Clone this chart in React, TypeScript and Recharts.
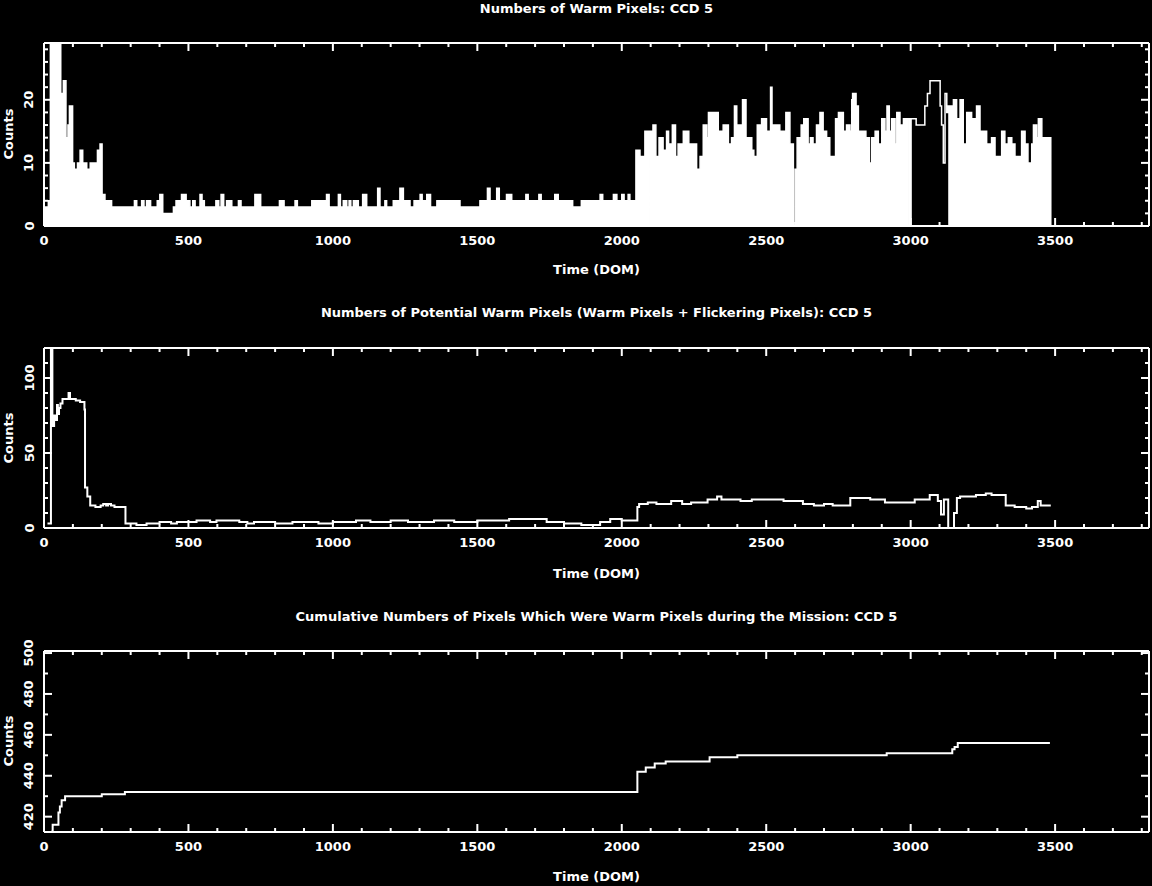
import React from 'react';
import { ComposedChart, Area, Line, XAxis, YAxis } from 'recharts';

// Day of mission ticks, shared by the three panels (major every 500)
const domTicks = [
  0, 100, 200, 300, 400, 500, 600, 700, 800, 900, 1000, 1100, 1200, 1300, 1400, 1500, 1600, 1700, 1800, 1900,
  2000, 2100, 2200, 2300, 2400, 2500, 2600, 2700, 2800, 2900, 3000, 3100, 3200, 3300, 3400, 3500, 3600, 3700, 3800,
];
const warmTicks = [0, 2, 4, 6, 8, 10, 12, 14, 16, 18, 20, 22, 24, 26, 28];
const potentialTicks = [0, 10, 20, 30, 40, 50, 60, 70, 80, 90, 100, 110, 120];
const cumulativeTicks = [420, 430, 440, 450, 460, 470, 480, 490, 500];

// Panel 1: warm pixels (step values)
const warmDom = [
  0, 15, 22, 58, 67, 76, 83, 88, 99, 105,
  116, 125, 134, 148, 160, 185, 194, 201, 211, 234,
  313, 321, 338, 346, 355, 369, 392, 401, 411, 448,
  457, 476, 492, 505, 515, 523, 540, 547, 555, 595,
  605, 613, 622, 632, 650, 673, 682, 730, 750, 815,
  831, 869, 877, 927, 978, 987, 1019, 1026, 1036, 1048,
  1056, 1062, 1071, 1088, 1103, 1117, 1155, 1163, 1180, 1186,
  1209, 1232, 1244, 1267, 1281, 1302, 1309, 1325, 1338, 1360,
  1440, 1509, 1535, 1544, 1567, 1576, 1601, 1619, 1668, 1676,
  1713, 1721, 1768, 1780, 1830, 1860, 1925, 1934, 1937, 1971,
  1983, 2000, 2008, 2022, 2028, 2049, 2063, 2080, 2092, 2095,
  2108, 2118, 2129, 2143, 2155, 2162, 2165, 2175, 2186, 2195,
  2213, 2232, 2259, 2271, 2282, 2294, 2300, 2334, 2351, 2369,
  2380, 2390, 2398, 2418, 2430, 2450, 2457, 2469, 2484, 2501,
  2515, 2520, 2547, 2568, 2582, 2594, 2600, 2607, 2621, 2630,
  2645, 2653, 2662, 2674, 2686, 2697, 2709, 2720, 2736, 2740,
  2750, 2767, 2778, 2790, 2796, 2799, 2811, 2819, 2845, 2857,
  2865, 2877, 2888, 2900, 2911, 2918, 2926, 2934, 2946, 2952,
  2963, 2975, 2988, 2991, 3004, 3019, 3049, 3058, 3067, 3102,
  3107, 3113, 3119, 3125, 3130, 3148, 3159, 3171, 3182, 3194,
  3211, 3228, 3240, 3263, 3280, 3292, 3315, 3326, 3338, 3350,
  3361, 3384, 3396, 3406, 3419, 3425, 3436, 3442, 3454, 3485,
];
const warmCount = [
  3, 4, 40, 21, 23, 14, 16, 19, 10, 9,
  10, 12, 10, 9, 10, 12, 13, 5, 4, 3,
  4, 3, 4, 3, 4, 3, 4, 5, 2, 3,
  4, 5, 4, 3, 4, 3, 5, 4, 3, 4,
  3, 5, 3, 4, 3, 4, 3, 5, 3, 4,
  3, 4, 3, 4, 5, 3, 5, 3, 4, 3,
  4, 3, 4, 3, 5, 3, 6, 3, 4, 3,
  4, 6, 4, 3, 4, 5, 4, 5, 3, 4,
  3, 4, 6, 4, 6, 4, 5, 4, 5, 4,
  5, 4, 5, 4, 3, 4, 5, 0, 4, 5,
  4, 5, 4, 5, 4, 12, 11, 15, 0, 15,
  16, 11, 14, 12, 15, 0, 13, 16, 11, 13,
  15, 13, 9, 11, 16, 14, 18, 15, 16, 13,
  14, 19, 16, 20, 14, 12, 11, 16, 17, 15,
  22, 16, 15, 18, 13, 0, 9, 14, 16, 17,
  13, 14, 13, 16, 18, 15, 14, 11, 0, 17,
  18, 15, 16, 15, 20, 21, 19, 15, 14, 10,
  14, 15, 13, 17, 15, 19, 15, 17, 13, 18,
  16, 17, 0, 17, 17, 16, 19, 21, 23, 19,
  16, 10, 21, 18, 19, 20, 17, 20, 13, 18,
  17, 19, 15, 13, 14, 11, 15, 13, 14, 13,
  11, 15, 13, 10, 13, 16, 14, 17, 14, 0,
];
// stretch where the plot is only an outline, not filled down to zero
const warmHollow = [3004, 3130];

// Panel 2: potential warm pixels
const potDom = [
  12, 24, 29, 35, 40, 45, 48, 52, 57, 64,
  85, 90, 110, 125, 140, 142, 150, 160, 178, 196,
  205, 215, 222, 232, 244, 282, 320, 355, 400, 440,
  460, 528, 575, 597, 676, 704, 727, 800, 860, 950,
  1000, 1080, 1130, 1200, 1260, 1350, 1420, 1500, 1610, 1740,
  1800, 1860, 1925, 1960, 2000, 2054, 2060, 2090, 2120, 2171,
  2209, 2240, 2297, 2330, 2345, 2411, 2450, 2513, 2560, 2627,
  2665, 2700, 2730, 2791, 2860, 2911, 3014, 3066, 3094, 3105,
  3115, 3130, 3150, 3160, 3171, 3226, 3260, 3280, 3329, 3360,
  3400, 3420, 3440, 3450, 3485,
];
const potCount = [
  3, 125, 68, 75, 72, 82, 76, 80, 83, 86,
  90, 86, 85, 84, 79, 27, 21, 15, 14, 15,
  16, 15, 16, 15, 14, 3, 2, 3, 4, 3,
  4, 5, 4, 5, 4, 3, 4, 3, 4, 3,
  4, 5, 4, 5, 4, 5, 4, 5, 6, 4,
  3, 2, 4, 6, 5, 14, 16, 17, 16, 18,
  16, 17, 19, 21, 19, 18, 19, 19, 18, 16,
  15, 16, 15, 20, 19, 17, 19, 22, 18, 9,
  19, 0, 10, 20, 21, 22, 23, 22, 15, 14,
  13, 14, 18, 15, 15,
];

// Panel 3: cumulative warm pixels
const cumDom = [26, 30, 50, 55, 61, 73, 200, 280, 2054, 2083, 2114, 2152, 2304, 2400, 2917, 3144, 3152, 3163, 3482];
const cumCount = [413, 416, 422, 425, 428, 430, 431, 432, 442, 444, 446, 447, 449, 450, 451, 453, 454, 456, 456];

const warmRows = warmDom.map((d, i) => ({
  dom: d,
  count: warmCount[i],
  fill: d >= warmHollow[0] && d < warmHollow[1] ? 0 : warmCount[i],
}));
const potRows = potDom.map((d, i) => ({ dom: d, count: potCount[i] }));
const cumRows = cumDom.map((d, i) => ({ dom: d, count: cumCount[i] }));

const FONT = '"DejaVu Sans", sans-serif';
const WHITE = '#ffffff';
const DOM_MAX = 3825;

const isMajor = (v: number, step: number) => Math.abs(v / step - Math.round(v / step)) < 1e-6;

const textProps = {
  fill: WHITE,
  fontSize: 13,
  fontWeight: 'bold' as const,
  fontFamily: FONT,
  stroke: 'none',
};

const bottomTick = (props: any) => {
  const { x, y, payload } = props;
  const major = isMajor(payload.value, 500);
  return (
    <g>
      <line x1={x} x2={x} y1={y} y2={y - (major ? 8 : 4)} stroke={WHITE} strokeWidth={2} />
      {major && (
        <text x={x} y={y + 14} textAnchor="middle" dominantBaseline="central" {...textProps}>
          {payload.value}
        </text>
      )}
    </g>
  );
};

const topTick = (props: any) => {
  const { x, y, payload } = props;
  const major = isMajor(payload.value, 500);
  return <line x1={x} x2={x} y1={y} y2={y + (major ? 8 : 4)} stroke={WHITE} strokeWidth={2} />;
};

const leftTick = (step: number) => (props: any) => {
  const { x, y, payload } = props;
  const major = isMajor(payload.value, step);
  const lx = x - 15;
  return (
    <g>
      <line x1={x} x2={x + (major ? 8 : 4)} y1={y} y2={y} stroke={WHITE} strokeWidth={2} />
      {major && (
        <text
          x={lx}
          y={y}
          transform={`rotate(-90 ${lx} ${y})`}
          textAnchor="middle"
          dominantBaseline="central"
          {...textProps}
        >
          {payload.value}
        </text>
      )}
    </g>
  );
};

const rightTick = (step: number) => (props: any) => {
  const { x, y, payload } = props;
  const major = isMajor(payload.value, step);
  return <line x1={x} x2={x - (major ? 8 : 4)} y1={y} y2={y} stroke={WHITE} strokeWidth={2} />;
};

// box of four axes with inward ticks; each axis is 1px thick so recharts draws it
const frameAxes = (yDomain: number[], yTicks: number[], yStep: number) => {
  const line = { stroke: WHITE, strokeWidth: 2 };
  return [
    <XAxis key="xb" dataKey="dom" type="number" domain={[0, DOM_MAX]} ticks={domTicks} interval={0}
      allowDataOverflow height={1} tickSize={0} tickMargin={0} tickLine={false} axisLine={line} tick={bottomTick} />,
    <XAxis key="xt" xAxisId="top" orientation="top" dataKey="dom" type="number" domain={[0, DOM_MAX]}
      ticks={domTicks} interval={0} allowDataOverflow height={1} tickSize={0} tickMargin={0} tickLine={false}
      axisLine={line} tick={topTick} />,
    <YAxis key="yl" type="number" domain={yDomain} ticks={yTicks} interval={0} allowDataOverflow width={1}
      tickSize={0} tickMargin={0} tickLine={false} axisLine={line} tick={leftTick(yStep)} />,
    <YAxis key="yr" yAxisId="right" orientation="right" type="number" domain={yDomain} ticks={yTicks}
      interval={0} allowDataOverflow width={1} tickSize={0} tickMargin={0} tickLine={false} axisLine={line}
      tick={rightTick(yStep)} />,
  ];
};

const Caption: React.FC<{ x: number; y: number; rotate?: boolean; children: React.ReactNode }> = ({
  x,
  y,
  rotate,
  children,
}) => (
  <div
    style={{
      position: 'absolute',
      left: x,
      top: y,
      transform: `translate(-50%, -50%)${rotate ? ' rotate(-90deg)' : ''}`,
      whiteSpace: 'nowrap',
      font: `bold 13px ${FONT}`,
      lineHeight: '13px',
      color: WHITE,
    }}
  >
    {children}
  </div>
);

const W = 1152;
const PLOT_LEFT = 44;
const PLOT_RIGHT = 1149;
const MID_X = (PLOT_LEFT + PLOT_RIGHT) / 2;

// margins leave room for the 1px axes
const plotMargin = (chartTop: number, chartHeight: number, plotTop: number, plotBottom: number) => ({
  top: plotTop - chartTop - 1,
  bottom: chartTop + chartHeight - plotBottom - 1,
  left: PLOT_LEFT - 1,
  right: W - PLOT_RIGHT - 1,
});

const App: React.FC = () => {
  return (
    <div style={{ position: 'relative', width: W, height: 886, background: '#000', overflow: 'hidden' }}>
      <style>{'body { margin: 0; background: #000; }'}</style>

      {/* Panel 1 */}
      <div style={{ position: 'absolute', left: 0, top: 0 }}>
        <ComposedChart width={W} height={296} data={warmRows} margin={plotMargin(0, 296, 43, 226)}>
          {frameAxes([0, 29], warmTicks, 10)}
          <Area type="stepAfter" dataKey="fill" stroke="none" fill={WHITE} fillOpacity={1} isAnimationActive={false} />
          <Line type="stepAfter" dataKey="count" stroke={WHITE} strokeWidth={1.5} dot={false} isAnimationActive={false} />
        </ComposedChart>
      </div>
      <Caption x={MID_X} y={8}>Numbers of Warm Pixels: CCD 5</Caption>
      <Caption x={MID_X} y={269}>Time (DOM)</Caption>
      <Caption x={8} y={134} rotate>Counts</Caption>

      {/* Panel 2 */}
      <div style={{ position: 'absolute', left: 0, top: 300 }}>
        <ComposedChart width={W} height={296} data={potRows} margin={plotMargin(300, 296, 348, 528)}>
          {frameAxes([0, 120], potentialTicks, 50)}
          <Line type="stepAfter" dataKey="count" stroke={WHITE} strokeWidth={2} dot={false} isAnimationActive={false} />
        </ComposedChart>
      </div>
      <Caption x={MID_X} y={312}>Numbers of Potential Warm Pixels (Warm Pixels + Flickering Pixels): CCD 5</Caption>
      <Caption x={MID_X} y={573}>Time (DOM)</Caption>
      <Caption x={8} y={438} rotate>Counts</Caption>

      {/* Panel 3 */}
      <div style={{ position: 'absolute', left: 0, top: 604 }}>
        <ComposedChart width={W} height={282} data={cumRows} margin={plotMargin(604, 282, 651, 832)}>
          {frameAxes([412.5, 501], cumulativeTicks, 20)}
          <Line type="stepAfter" dataKey="count" stroke={WHITE} strokeWidth={2} dot={false} isAnimationActive={false} />
        </ComposedChart>
      </div>
      <Caption x={MID_X} y={616}>Cumulative Numbers of Pixels Which Were Warm Pixels during the Mission: CCD 5</Caption>
      <Caption x={MID_X} y={876}>Time (DOM)</Caption>
      <Caption x={8} y={741} rotate>Counts</Caption>
    </div>
  );
};

export default App;
